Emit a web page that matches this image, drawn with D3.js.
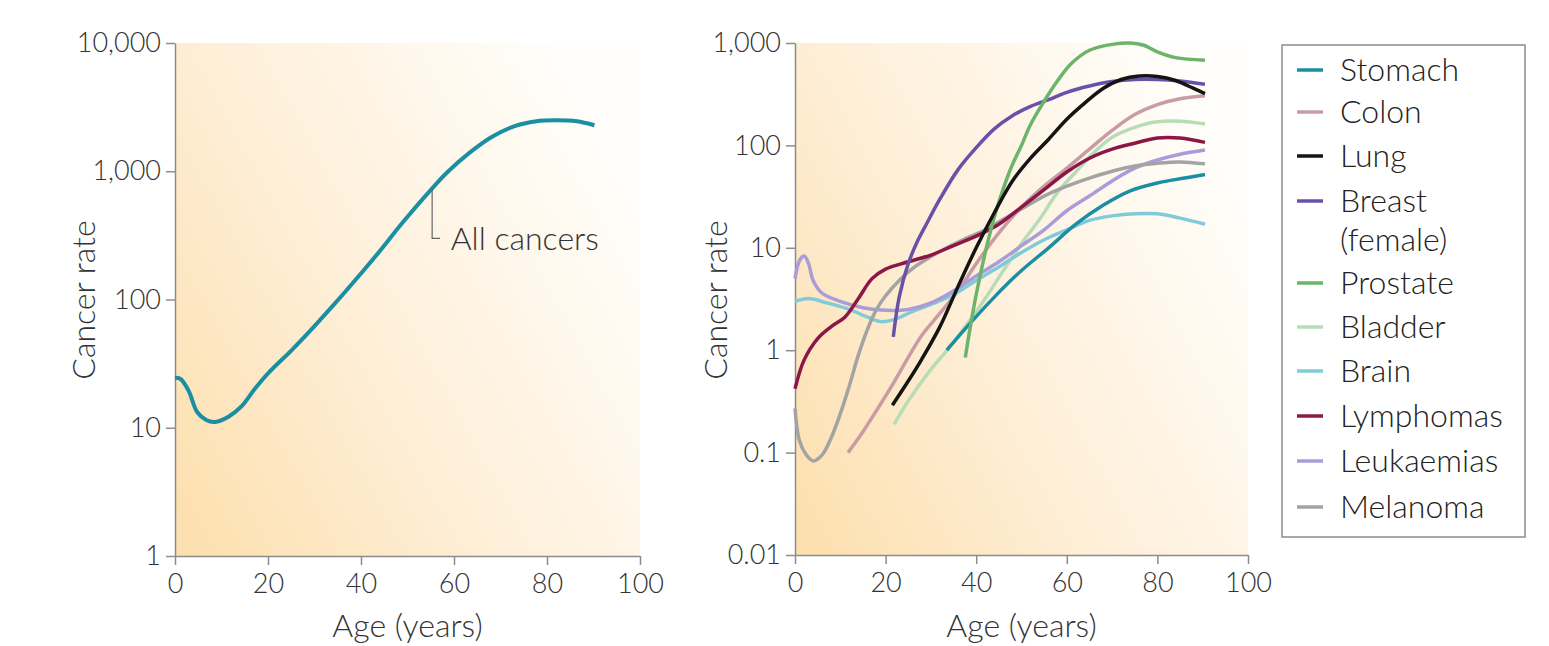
<!DOCTYPE html>
<html>
<head>
<meta charset="utf-8">
<script src="https://cdn.jsdelivr.net/npm/d3@7"></script>
<style>
  body { margin: 0; background: #fff; }
  svg { display: block; font-family: Lato, "Open Sans", sans-serif; font-weight: 300; }
  .axis path, .axis line { stroke: #8c8c8c; stroke-width: 1.5; }
  .axis text { font-size: 27px; fill: #333; font-family: Lato, "Open Sans", sans-serif; font-weight: 300; }
  .title { font-size: 32px; fill: #333; }
  .legend text { font-size: 32px; fill: #222; }
</style>
</head>
<body>
<div id="canvas"></div>
<script>
// age ticks and rate ticks
var ageTicks = [0, 20, 40, 60, 80, 100];
var leftRateTicks = [1, 10, 100, 1000, 10000];
var rightRateTicks = [0.01, 0.1, 1, 10, 100, 1000];

// left panel: all cancers [age, rate]
var allCancers = [[0,24.5],[1.2,24],[2.9,19.5],[4.8,13.2],[6.7,11.5],[8.6,11.1],[11.5,12.2],[14.4,14.8],[17.3,20.4],
  [20.2,27],[25,40],[29.8,61],[34.5,94],[39.3,149],[44.1,240],[49,400],[55.3,735],[58.5,977],[63.3,1390],
  [68.1,1850],[72.9,2240],[77.7,2455],[81.6,2500],[86.4,2455],[90.2,2285]];
var allLabel = "All cancers";

// right panel series
var names = ["Stomach", "Colon", "Lung", "Breast (female)", "Prostate", "Bladder", "Brain", "Lymphomas", "Leukaemias", "Melanoma"];
var colors = ["#1a8fa3", "#c99ba4", "#141414", "#6a51a8", "#6cb46a", "#b8dcb6", "#80cbd9", "#8c1747", "#a99cd9", "#a3a3a3"];

var stomach = [[33.5,1.0],[38,1.7],[44,3.3],[50,6],[56,10],[62,17],[68,26],[74,36],[80,43],[86,48],[90.5,52]];
var colon = [[11.7,0.1],[15,0.16],[18.5,0.28],[22,0.5],[25,0.85],[28,1.4],[32,2.3],[36,3.8],[40,7],[45,14],
  [50,25],[55,40],[60,60],[65,92],[70,140],[75,200],[80,250],[85,285],[90.5,305]];
var lung = [[21.5,0.29],[25,0.5],[28,0.82],[32,1.7],[36,4.2],[40,10],[44,22],[48,45],[52,75],[56,115],[60,180],
  [64,260],[68,360],[72,440],[76,475],[80,470],[84,430],[88,360],[90.5,320]];
var breast = [[21.7,1.35],[23,3.3],[25,7],[27,11.5],[29,17],[32,30],[36,58],[40,95],[44,145],[48,195],[52,240],
  [56,280],[60,330],[65,380],[70,420],[75,440],[80,440],[85,425],[90.5,395]];
var prostate = [[37.6,0.85],[38.5,1.5],[40,3.5],[42,9],[44,20],[46,38],[48,65],[50,100],[52,160],[55,270],
  [58,430],[61,630],[65,850],[70,970],[74,1000],[77,950],[80,820],[84,720],[90.5,680]];
var bladder = [[21.9,0.19],[25,0.32],[30,0.65],[34,1.05],[38,1.8],[42,3.2],[46,6],[50,11],[54,19],[58,35],
  [62,55],[66,85],[70,120],[75,150],[80,170],[85,172],[90.5,162]];
var brain = [[0,3.0],[3,3.2],[7,2.9],[12,2.5],[16,2.1],[19,1.9],[22,2.0],[26,2.4],[30,2.8],[35,3.5],[40,4.8],
  [45,6.5],[50,9],[55,12],[60,15],[65,18.5],[70,20.5],[75,21.5],[80,21.5],[85,19.5],[90.5,17]];
var lymphomas = [[0,0.42],[2,0.8],[5,1.3],[8,1.7],[11,2.1],[14,3.2],[17,5],[20,6.2],[25,7.3],[30,8.5],[35,10.5],
  [40,13],[45,17],[50,25],[55,37],[60,55],[65,75],[70,92],[75,105],[80,118],[85,118],[90.5,107]];
var leukaemias = [[0,5],[1,7.5],[2,8.3],[3,7],[4,4.8],[6,3.6],[10,3.0],[15,2.6],[20,2.45],[25,2.5],[30,2.9],
  [35,3.8],[40,5.3],[45,7.3],[50,10.5],[55,15],[60,23],[65,32],[70,45],[75,60],[80,72],[85,82],[90.5,90]];
var melanoma = [[0,0.27],[1,0.13],[2.5,0.095],[4,0.083],[6,0.095],[8,0.14],[10,0.24],[12,0.45],[14,0.9],
  [16,1.6],[18,2.5],[20,3.4],[23,4.8],[26,6.3],[30,8.2],[34,10.3],[38,12.5],[42,15],[46,19],[50,24],[55,32],
  [60,40],[65,48],[70,56],[75,63],[80,67],[85,69],[90.5,66]];

var seriesData = [stomach, colon, lung, breast, prostate, bladder, brain, lymphomas, leukaemias, melanoma];

var winWidth = 1549, winHeight = 646;

var svg = d3.select("#canvas").append("svg")
  .attr("width", winWidth)
  .attr("height", winHeight);

// background gradient, peach at lower left fading to white on the right
var grad = svg.append("defs").append("linearGradient")
  .attr("id", "bg")
  .attr("x1", 0).attr("y1", 0.9)
  .attr("x2", 1).attr("y2", 0.3);
grad.append("stop").attr("offset", "0%").attr("stop-color", "#fde0b0");
grad.append("stop").attr("offset", "45%").attr("stop-color", "#feefd8");
grad.append("stop").attr("offset", "100%").attr("stop-color", "#fffefb");

function panel(xr, yr, ydomain, yticks) {
  var x = d3.scaleLinear().domain([0, 100]).range(xr);
  var y = d3.scaleLog().domain(ydomain).range(yr);
  var g = svg.append("g");

  g.append("rect")
    .attr("x", x(0)).attr("y", y(ydomain[1]))
    .attr("width", x(100) - x(0)).attr("height", y(ydomain[0]) - y(ydomain[1]))
    .attr("fill", "url(#bg)");

  g.append("g")
    .attr("class", "axis")
    .attr("transform", "translate(0," + y(ydomain[0]) + ")")
    .call(d3.axisBottom(x).tickValues(ageTicks).tickSize(9).tickSizeOuter(0).tickPadding(9));

  g.append("g")
    .attr("class", "axis")
    .attr("transform", "translate(" + x(0) + ",0)")
    .call(d3.axisLeft(y).tickValues(yticks).tickFormat(d3.format(",")).tickSize(9).tickSizeOuter(0).tickPadding(5));

  g.append("text")
    .attr("class", "title")
    .attr("x", (x(0) + x(100)) / 2)
    .attr("y", 637)
    .attr("text-anchor", "middle")
    .text("Age (years)");

  return { x: x, y: y, g: g };
}

// left panel
var L = panel([175, 640], [556, 43], [1, 10000], leftRateTicks);
L.g.append("text")
  .attr("class", "title")
  .attr("transform", "translate(95,300) rotate(-90)")
  .attr("text-anchor", "middle")
  .text("Cancer rate");

var lineL = d3.line()
  .x(function(d) { return L.x(d[0]); })
  .y(function(d) { return L.y(d[1]); })
  .curve(d3.curveCatmullRom.alpha(0.5));

L.g.append("path")
  .datum(allCancers)
  .attr("d", lineL)
  .attr("fill", "none")
  .attr("stroke", "#1a8fa3")
  .attr("stroke-width", 4);

// leader to label
L.g.append("path")
  .attr("d", "M" + L.x(55.3) + "," + L.y(730) + "V" + L.y(300) + "H" + L.x(57))
  .attr("fill", "none")
  .attr("stroke", "#666")
  .attr("stroke-width", 1.2);
L.g.append("text")
  .attr("class", "title")
  .attr("x", L.x(59.3))
  .attr("y", L.y(300))
  .attr("dy", "0.35em")
  .text(allLabel);

// right panel
var R = panel([795, 1248], [555, 43], [0.01, 1000], rightRateTicks);
R.g.append("text")
  .attr("class", "title")
  .attr("transform", "translate(727,300) rotate(-90)")
  .attr("text-anchor", "middle")
  .text("Cancer rate");

var lineR = d3.line()
  .x(function(d) { return R.x(d[0]); })
  .y(function(d) { return R.y(d[1]); })
  .curve(d3.curveCatmullRom.alpha(0.5));

// draw in an order that keeps the dark lines readable
var drawOrder = [5, 1, 6, 8, 9, 0, 7, 3, 4, 2];
R.g.append("g").selectAll("path")
  .data(drawOrder)
  .enter().append("path")
  .attr("d", function(i) { return lineR(seriesData[i]); })
  .attr("fill", "none")
  .attr("stroke", function(i) { return colors[i]; })
  .attr("stroke-width", 3.5);

// legend
var leg = svg.append("g").attr("class", "legend");
leg.append("rect")
  .attr("x", 1282).attr("y", 45)
  .attr("width", 243).attr("height", 492)
  .attr("fill", "#fff")
  .attr("stroke", "#8c8c8c")
  .attr("stroke-width", 1.5);

var legY = [70, 112, 156, 201, 283, 327, 371, 416, 461, 507];
names.forEach(function(n, i) {
  leg.append("line")
    .attr("x1", 1297).attr("x2", 1323)
    .attr("y1", legY[i]).attr("y2", legY[i])
    .attr("stroke", colors[i]).attr("stroke-width", 3.5);
  var t = leg.append("text").attr("x", 1340).attr("y", legY[i]).attr("dy", "0.35em");
  var parts = n.split(" ");
  if (parts.length > 1) {
    t.append("tspan").attr("x", 1340).text(parts[0]);
    t.append("tspan").attr("x", 1340).attr("dy", 39).text(parts[1]);
  } else {
    t.text(n);
  }
});
</script>
</body>
</html>
